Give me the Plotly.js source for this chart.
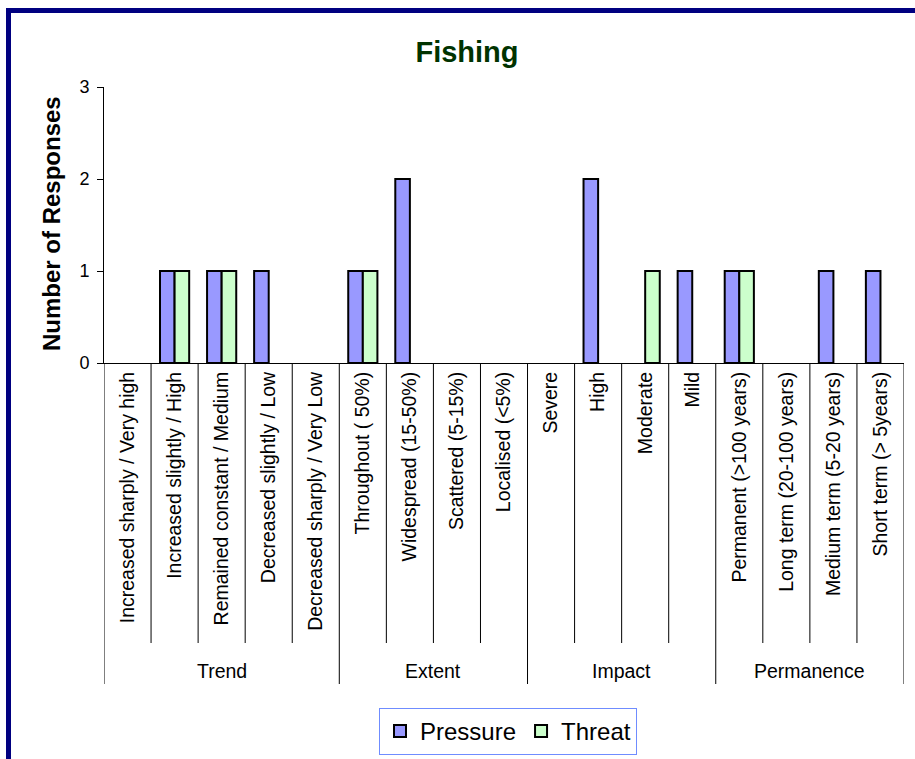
<!DOCTYPE html>
<html>
<head>
<meta charset="utf-8">
<script src="https://cdn.plot.ly/plotly-3.0.1.min.js"></script>
<style>
  html, body { margin: 0; padding: 0; background: #ffffff; overflow: hidden; }
  #wrap { position: relative; width: 915px; height: 759px; overflow: hidden; }
  #chart { position: absolute; left: 0; top: 0; width: 915px; height: 759px; }
  #frame {
    position: absolute; left: 6px; top: 8px; width: 1000px; height: 1000px;
    border: 5px solid #000080; pointer-events: none; box-sizing: border-box;
  }
</style>
</head>
<body>
<div id="wrap">
  <div id="chart"></div>
  <div id="frame"></div>
</div>
<script>
// Response categories, in the order they appear along the axis
const categories = [
  "Increased sharply / Very high",
  "Increased slightly / High",
  "Remained constant / Medium",
  "Decreased slightly / Low",
  "Decreased sharply / Very Low",
  "Throughout ( 50%)",
  "Widespread (15-50%)",
  "Scattered (5-15%)",
  "Localised (<5%)",
  "Severe",
  "High",
  "Moderate",
  "Mild",
  "Permanent (>100 years)",
  "Long term (20-100 years)",
  "Medium term (5-20 years)",
  "Short term (> 5years)"
];

// Groups of categories and how many categories each one covers
const groupNames = ["Trend", "Extent", "Impact", "Permanence"];
const groupSizes = [5, 4, 4, 4];

// Number of responses per category
const pressure = [0, 1, 1, 1, 0, 1, 2, 0, 0, 0, 2, 0, 1, 1, 0, 1, 1];
const threat   = [0, 1, 1, 0, 0, 1, 0, 0, 0, 0, 0, 1, 0, 1, 0, 0, 0];

const yTicks = [0, 1, 2, 3];

const FONT = "Liberation Sans, Arial, Helvetica, sans-serif";

// Zero counts get no bar at all (not even an outline on the baseline)
const noZero = (arr) => arr.map(v => (v === 0 ? null : v));

const traces = [
  {
    type: "bar", name: "Pressure", x: categories, y: noZero(pressure),
    marker: { color: "#9999FF", line: { color: "#000000", width: 2 } },
    hoverinfo: "skip"
  },
  {
    type: "bar", name: "Threat", x: categories, y: noZero(threat),
    marker: { color: "#CCFFCC", line: { color: "#000000", width: 2 } },
    hoverinfo: "skip"
  }
];

// Plot area in pixels: x 104..904, y 87..363
const W = 915, H = 759;
const plotLeft = 104, plotRight = 904;
const plotTop = 87, plotBottom = 363, plotH = plotBottom - plotTop;
const py = (pix) => (plotBottom - pix) / plotH;   // pixel row -> paper y
const px = (pix) => (pix - plotLeft) / (plotRight - plotLeft);

// Divider lines and group names under the category axis
const shapes = [];
const annotations = [];
let start = 0;
const boundaries = new Set();
groupSizes.forEach((n, gi) => {
  boundaries.add(start - 0.5);
  boundaries.add(start + n - 0.5);
  annotations.push({
    xref: "x", yref: "paper",
    x: start + (n - 1) / 2, y: py(671),
    text: groupNames[gi], showarrow: false,
    xanchor: "center", yanchor: "middle",
    font: { family: FONT, size: 19.5, color: "#000000" }
  });
  start += n;
});
for (let i = 0; i <= categories.length; i++) {
  const xb = i - 0.5;
  const isGroup = boundaries.has(xb);
  shapes.push({
    type: "line", xref: "x", yref: "paper",
    x0: xb, x1: xb, y0: 0, y1: isGroup ? py(684) : py(643),
    line: { color: "#000000", width: 1 }
  });
}

// Value axis title
annotations.push({
  xref: "paper", yref: "paper",
  x: px(51), y: py(224),
  text: "<b>Number of Responses</b>", textangle: -90, showarrow: false,
  xanchor: "center", yanchor: "middle",
  font: { family: FONT, size: 24, color: "#000000" }
});

const layout = {
  width: W, height: H,
  margin: { l: plotLeft, r: W - plotRight, t: plotTop, b: H - plotBottom, pad: 0 },
  paper_bgcolor: "rgba(0,0,0,0)",
  plot_bgcolor: "rgba(0,0,0,0)",
  font: { family: FONT, color: "#000000" },
  barmode: "group",
  bargap: 0.38,
  bargroupgap: 0,
  showlegend: true,
  title: {
    text: "Fishing",
    font: { family: FONT, size: 29, weight: "bold", color: "#003300" },
    xref: "container", x: 467 / W, xanchor: "center",
    yref: "container", y: 1 - 52 / H, yanchor: "middle"
  },
  xaxis: {
    type: "category",
    categoryorder: "array", categoryarray: categories,
    range: [-0.5, categories.length - 0.5],
    tickangle: -90,
    ticks: "",
    tickfont: { family: FONT, size: 19.5, color: "#000000" },
    showline: true, linecolor: "#000000", linewidth: 1,
    showgrid: false, zeroline: false, fixedrange: true, automargin: false
  },
  yaxis: {
    range: [0, 3],
    tickvals: yTicks, ticktext: yTicks.map(String),
    ticks: "outside", ticklen: 6, tickcolor: "#000000", tickwidth: 1,
    ticklabelstandoff: 4,
    tickfont: { family: FONT, size: 18, color: "#000000" },
    showline: true, linecolor: "#000000", linewidth: 1,
    showgrid: false, zeroline: false, fixedrange: true, automargin: false
  },
  legend: {
    orientation: "h",
    xref: "container", x: 508 / W, xanchor: "center",
    yref: "container", y: 1 - 708 / H, yanchor: "top",
    bgcolor: "#ffffff",
    bordercolor: "#6f8cff", borderwidth: 1,
    font: { family: FONT, size: 24, color: "#000000" },
    itemwidth: 30
  },
  shapes: shapes,
  annotations: annotations
};

Plotly.newPlot("chart", traces, layout, { displayModeBar: false, staticPlot: true });
</script>
</body>
</html>
